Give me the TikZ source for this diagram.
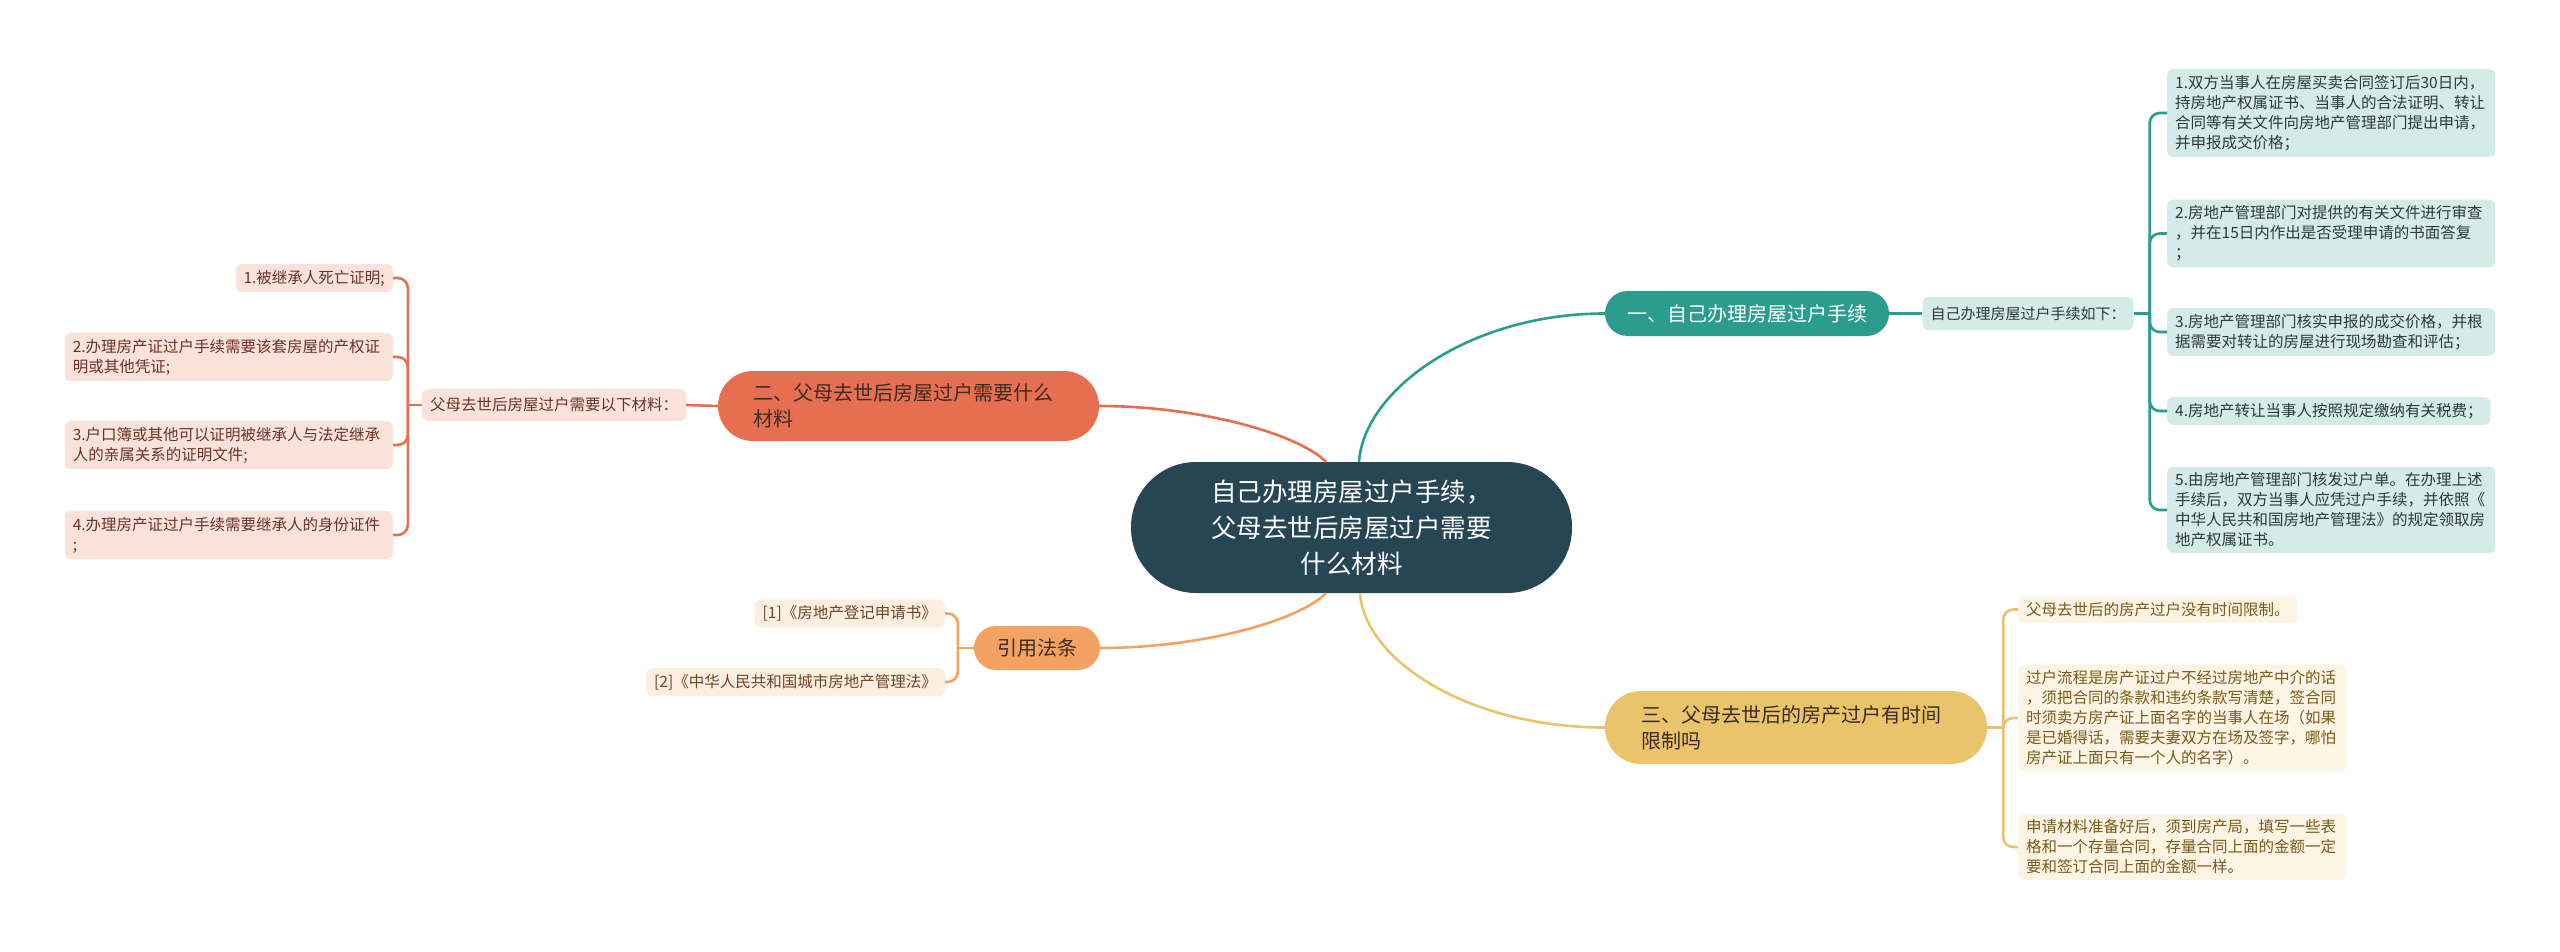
\documentclass[tikz,border=0pt]{standalone}
\usepackage{fontspec}
\setmainfont{Noto Sans CJK SC}
\usetikzlibrary{calc}
\definecolor{cdark}{HTML}{264653}
\definecolor{cteal}{HTML}{2A9D8F}
\definecolor{cyel}{HTML}{E9C46A}
\definecolor{cora}{HTML}{F4A261}
\definecolor{cred}{HTML}{E76F51}
\definecolor{tealL}{HTML}{D5EBE8}
\definecolor{redL}{HTML}{FBE3DC}
\definecolor{oraL}{HTML}{FDEEE2}
\definecolor{yelL}{HTML}{FCF5E6}
\definecolor{txtT}{HTML}{2E3A38}
\definecolor{txtR}{HTML}{6A3324}
\definecolor{txtO}{HTML}{6E4626}
\definecolor{txtY}{HTML}{7A5A16}
\definecolor{txtB}{HTML}{3A2C22}
\tikzset{
  leafbox/.style={rounded corners=6pt, inner xsep=8pt, inner ysep=6pt,
    font=\fontsize{15.5}{20}\selectfont, align=left},
  wide/.style={text width=312pt},
  tleaf/.style={leafbox, fill=tealL, text=txtT},
  rleaf/.style={leafbox, fill=redL, text=txtR},
  oleaf/.style={leafbox, fill=oraL, text=txtO},
  yleaf/.style={leafbox, fill=yelL, text=txtY},
  pill/.style={font=\fontsize{20}{26}\selectfont},
  tline/.style={draw=cteal, line width=2.6pt},
  rline/.style={draw=cred, line width=2.6pt},
  oline/.style={draw=cora, line width=2.6pt},
  yline/.style={draw=cyel, line width=2.6pt},
  brk/.style={rounded corners=10pt},
}
\begin{document}
\begin{tikzpicture}[x=1pt,y=-1pt]
\useasboundingbox (0,0) rectangle (2560,952);

% central
\node[fill=cdark, text=white, minimum width=441pt, minimum height=131pt,
  rounded corners=65pt, align=center, font=\fontsize{25.5}{36}\selectfont]
  (c) at (1351.5,527.5) {自己办理房屋过户手续，\\父母去世后房屋过户需要\\什么材料};

% branches
\node[pill, fill=cteal, text=white, minimum width=284pt, minimum height=45pt,
  rounded corners=22.5pt] (b1) at (1747,313.5) {一、自己办理房屋过户手续};
\node[pill, fill=cred, text=txtB, text width=310pt, align=left, inner xsep=35.5pt,
  minimum height=70pt, rounded corners=35pt] (b2) at (908.5,406)
  {二、父母去世后房屋过户需要什么\\材料};
\node[pill, fill=cyel, text=txtB, text width=310pt, align=left, inner xsep=36pt,
  minimum height=73pt, rounded corners=36pt] (b3) at (1796,727.5)
  {三、父母去世后的房产过户有时间\\限制吗};
\node[pill, fill=cora, text=txtB, minimum width=126pt, minimum height=44pt,
  rounded corners=22pt] (b4) at (1037,648) {引用法条};

% sub nodes
\node[tleaf, font=\fontsize{15}{20}\selectfont, minimum height=33pt] (s1) at (2028,313.5) {自己办理房屋过户手续如下：};
\node[rleaf, minimum height=32pt] (s2) at (554,405) {父母去世后房屋过户需要以下材料：};

% right teal leaves
\node[tleaf, wide, anchor=west] (t1) at (2167,113)
  {1.双方当事人在房屋买卖合同签订后30日内，\\持房地产权属证书、当事人的合法证明、转让\\合同等有关文件向房地产管理部门提出申请，\\并申报成交价格；};
\node[tleaf, wide, anchor=west] (t2) at (2167,233.5)
  {2.房地产管理部门对提供的有关文件进行审查\\，并在15日内作出是否受理申请的书面答复\\；};
\node[tleaf, wide, anchor=west] (t3) at (2167,332)
  {3.房地产管理部门核实申报的成交价格，并根\\据需要对转让的房屋进行现场勘查和评估；};
\node[tleaf, anchor=west] (t4) at (2167,411) {4.房地产转让当事人按照规定缴纳有关税费；};
\node[tleaf, wide, anchor=west] (t5) at (2167,510)
  {5.由房地产管理部门核发过户单。在办理上述\\手续后，双方当事人应凭过户手续，并依照《\\中华人民共和国房地产管理法》的规定领取房\\地产权属证书。};

% left red leaves
\node[rleaf, anchor=east] (r1) at (393,278) {1.被继承人死亡证明;};
\node[rleaf, wide, anchor=east] (r2) at (393,357)
  {2.办理房产证过户手续需要该套房屋的产权证\\明或其他凭证;};
\node[rleaf, wide, anchor=east] (r3) at (393,445)
  {3.户口簿或其他可以证明被继承人与法定继承\\人的亲属关系的证明文件;};
\node[rleaf, wide, anchor=east] (r4) at (393,535)
  {4.办理房产证过户手续需要继承人的身份证件\\;};

% orange leaves
\node[oleaf, anchor=east] (o1) at (945,613.5) {[1]《房地产登记申请书》};
\node[oleaf, anchor=east] (o2) at (945,682) {[2]《中华人民共和国城市房地产管理法》};

% yellow leaves
\node[yleaf, anchor=west] (y1) at (2018,609.5) {父母去世后的房产过户没有时间限制。};
\node[yleaf, wide, anchor=west] (y2) at (2018,718)
  {过户流程是房产证过户不经过房地产中介的话\\，须把合同的条款和违约条款写清楚，签合同\\时须卖方房产证上面名字的当事人在场（如果\\是已婚得话，需要夫妻双方在场及签字，哪怕\\房产证上面只有一个人的名字）。};
\node[yleaf, wide, anchor=west] (y3) at (2018,847)
  {申请材料准备好后，须到房产局，填写一些表\\格和一个存量合同，存量合同上面的金额一定\\要和签订合同上面的金额一样。};

% main connectors
\coordinate (ct) at ($(c.north)+(7.5,0)$);
\coordinate (cr) at ($(c.north)+(-25.5,0)$);
\coordinate (co) at ($(c.south)+(-25.5,0)$);
\coordinate (cy) at ($(c.south)+(8.5,0)$);
\draw[tline] (ct) .. controls ($(ct)+(5,-72)$) and ($(b1.west)+(-135,0)$) .. (b1.west);
\draw[rline] (cr) .. controls ($(cr)+(-28,-28)$) and ($(b2.east)+(100,0)$) .. (b2.east);
\draw[oline] (co) .. controls ($(co)+(-28,28)$) and ($(b4.east)+(100,0)$) .. (b4.east);
\draw[yline] (cy) .. controls ($(cy)+(5,68)$) and ($(b3.west)+(-135,0)$) .. (b3.west);

% branch to sub
\draw[tline] (b1.east) -- (s1.west);
\draw[rline] (b2.west) -- (s2.east);

% brackets
\coordinate (jt) at ($(s1.east)+(16,0)$);
\draw[tline] (s1.east) -- (jt);
\foreach \n in {t1,t2,t3,t4,t5} \draw[tline, brk] (jt) |- (\n.west);

\coordinate (jr) at ($(s2.west)+(-14,0)$);
\draw[rline] (s2.west) -- (jr);
\foreach \n in {r1,r2,r3,r4} \draw[rline, brk] (jr) |- (\n.east);

\coordinate (jo) at ($(b4.west)+(-16,0)$);
\draw[oline] (b4.west) -- (jo);
\foreach \n in {o1,o2} \draw[oline, brk] (jo) |- (\n.east);

\coordinate (jy) at ($(b3.east)+(16,0)$);
\draw[yline] (b3.east) -- (jy);
\foreach \n in {y1,y2,y3} \draw[yline, brk] (jy) |- (\n.west);
\end{tikzpicture}
\end{document}
